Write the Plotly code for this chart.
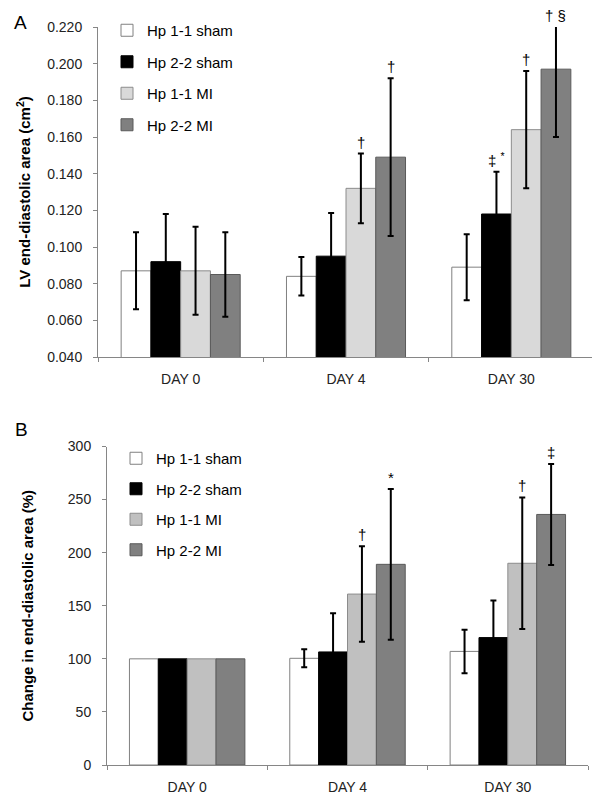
import plotly.graph_objects as go

days = ["DAY 0", "DAY 4", "DAY 30"]
groups = ["Hp 1-1 sham", "Hp 2-2 sham", "Hp 1-1 MI", "Hp 2-2 MI"]

# panel A: LV end-diastolic area (cm2), mean and SD per group, per day
area_mean = [
    [0.087, 0.084, 0.089],
    [0.092, 0.095, 0.118],
    [0.087, 0.132, 0.164],
    [0.085, 0.149, 0.197],
]
area_sd = [
    [0.021, 0.0105, 0.018],
    [0.026, 0.0235, 0.023],
    [0.024, 0.019, 0.032],
    [0.023, 0.043, 0.037],
]

# panel B: change in end-diastolic area (%)
change_mean = [
    [100, 100.5, 107],
    [100, 106.5, 120],
    [100, 161, 190],
    [100, 189, 236],
]
# DAY 0 is the baseline (100 %), so spread only for DAY 4 and DAY 30
change_sd = [
    [8.5, 20.5],
    [36.5, 35],
    [45, 62],
    [71, 47.5],
]

# significance marks: (day index, group index, text)
marks_a = [(1, 2, "†"), (1, 3, "†"), (2, 1, "‡ <sup>*</sup>"), (2, 2, "†"), (2, 3, "† §")]
marks_b = [(1, 2, "†"), (1, 3, "*"), (2, 2, "†"), (2, 3, "‡")]

fills_a = ["white", "black", "#d9d9d9", "#808080"]
fills_b = ["white", "black", "#c0c0c0", "#808080"]
lines = ["#808080", "black", "#8c8c8c", "#5a5a5a"]

font = "Liberation Sans, Arial, sans-serif"
bargap = 0.28
err = dict(type="data", color="black", thickness=2, width=3)

# the page body has an 8px margin, so the figure is a bit smaller than the window
W, H, OFF = 592, 798, 8


def px(x):
    return (x - OFF) / W


def py(y):
    return 1 - (y - OFF) / H


fig = go.Figure()

for k, name in enumerate(groups):
    fig.add_trace(go.Bar(
        x=days, y=area_mean[k], name=name, xaxis="x", yaxis="y",
        marker=dict(color=fills_a[k], line=dict(color=lines[k], width=1)),
        error_y=dict(array=area_sd[k], **err),
        legend="legend", legendgroup="a%d" % k,
    ))
for k, name in enumerate(groups):
    fig.add_trace(go.Bar(
        x=days, y=change_mean[k], name=name, xaxis="x2", yaxis="y2",
        offsetgroup=str(k),
        marker=dict(color=fills_b[k], line=dict(color=lines[k], width=1)),
        legend="legend2", legendgroup="b%d" % k,
    ))
# error bars of panel B on transparent copies, so DAY 0 gets none
for k, name in enumerate(groups):
    fig.add_trace(go.Bar(
        x=days[1:], y=change_mean[k][1:], name=name, xaxis="x2", yaxis="y2",
        offsetgroup=str(k), showlegend=False, hoverinfo="skip",
        marker=dict(color="rgba(0,0,0,0)", line=dict(width=0)),
        error_y=dict(array=change_sd[k], **err),
    ))

bw = (1 - bargap) / len(groups)
annotations = []


def add_mark(d, k, txt, top, xref, yref):
    annotations.append(dict(
        x=d + (k - 1.5) * bw, y=top, xref=xref, yref=yref, text=txt,
        showarrow=False, yanchor="bottom", yshift=1,
        font=dict(family=font, size=15, color="black"),
    ))


for d, k, txt in marks_a:
    add_mark(d, k, txt, min(area_mean[k][d] + area_sd[k][d], 0.22), "x", "y")
for d, k, txt in marks_b:
    add_mark(d, k, txt, min(change_mean[k][d] + change_sd[k][d - 1], 300), "x2", "y2")

for label, lx, ly in [("A", 20, 22), ("B", 21, 429)]:
    annotations.append(dict(x=px(lx), y=py(ly), xref="paper", yref="paper", text=label,
                            xanchor="center", yanchor="middle", showarrow=False,
                            font=dict(family=font, size=19, color="black")))

axis_common = dict(showline=True, linecolor="#868686", linewidth=1, ticks="outside",
                   tickcolor="#868686", ticklen=4, showgrid=False, zeroline=False,
                   automargin=False,
                   tickfont=dict(family=font, size=14, color="#222"))
title_font = dict(family=font, size=15, color="black")

fig.update_layout(
    width=W, height=H,
    margin=dict(l=0, r=0, t=0, b=0),
    paper_bgcolor="white", plot_bgcolor="white",
    barmode="group", bargap=bargap, bargroupgap=0,
    showlegend=True,
    xaxis=dict(domain=[px(98), px(594)], anchor="y", tickson="boundaries",
               ticklabelstandoff=9, **axis_common),
    yaxis=dict(domain=[py(357), py(27)], anchor="x", range=[0.04, 0.22],
               dtick=0.02, tickformat=".3f", ticklabelstandoff=8,
               title=dict(text="<b>LV end-diastolic area (cm<sup>2</sup>)</b>", standoff=12,
                          font=title_font),
               **axis_common),
    xaxis2=dict(domain=[px(107), px(588)], anchor="y2", tickson="boundaries",
                ticklabelstandoff=9, **axis_common),
    yaxis2=dict(domain=[py(765), py(446.5)], anchor="x2", range=[0, 300],
                dtick=50, ticklabelstandoff=8,
                title=dict(text="<b>Change in end-diastolic area (%)</b>", standoff=30,
                           font=title_font),
                **axis_common),
    legend=dict(x=px(107), y=py(14), xanchor="left", yanchor="top",
                traceorder="grouped", tracegroupgap=9, bgcolor="rgba(0,0,0,0)",
                font=dict(family=font, size=15, color="black")),
    legend2=dict(x=px(116), y=py(442), xanchor="left", yanchor="top",
                 traceorder="grouped", tracegroupgap=8, bgcolor="rgba(0,0,0,0)",
                 font=dict(family=font, size=15, color="black")),
    annotations=annotations,
)

fig.write_html("out.html")
